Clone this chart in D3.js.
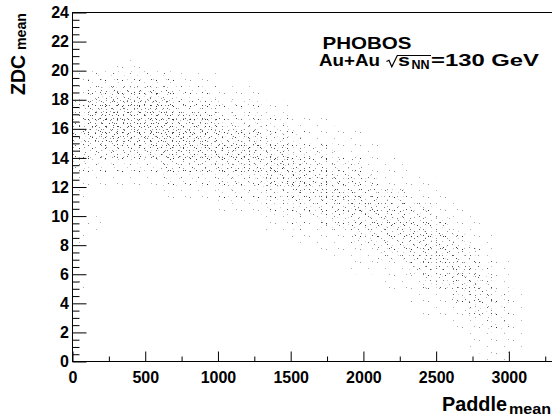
<!DOCTYPE html>
<html>
<head>
<meta charset="utf-8">
<script src="https://cdn.jsdelivr.net/npm/d3@7"></script>
<style>
body { margin: 0; background: #fff; }
text { font-family: "Liberation Sans", Arial, sans-serif; font-weight: bold; }
</style>
</head>
<body>
<svg id="chart" width="552" height="415"></svg>
<script>
// Paddle bin lower edges (width 100) and ZDC bin lower edges (width 1, top row first)
const paddleBins = [0, 100, 200, 300, 400, 500, 600, 700, 800, 900, 1000, 1100, 1200, 1300, 1400, 1500,
	1600, 1700, 1800, 1900, 2000, 2100, 2200, 2300, 2400, 2500, 2600, 2700, 2800, 2900, 3000]
const zdcBins = [20, 19, 18, 17, 16, 15, 14, 13, 12, 11, 10, 9, 8, 7, 6, 5, 4, 3, 2, 1, 0]

// event density per cell, 0 (empty) .. 9 (densest)
const density = [
	'0001100000 0000000000 0000000000 0',
	'1222222111 0000000000 0000000000 0',
	'1455554222 1110000000 0000000000 0',
	'3788887444 2221100000 0000000000 0',
	'4899998766 3332211100 0000000000 0',
	'5788888877 5553321111 0000000000 0',
	'4455557766 6665533311 1000000000 0',
	'3222224444 5556654433 1110000000 0',
	'1111112222 3335565544 3111100000 0',
	'1000001111 2223354555 4331110000 0',
	'0000000000 1112233445 5443311000 0',
	'0100000000 0001121334 4554431100 0',
	'1000000000 0000011113 3445543110 0',
	'0000000000 0000000111 1334554310 0',
	'0000000000 0000000001 1113445421 0',
	'1000000000 0000000000 0111334531 0',
	'0000000000 0000000000 0001113442 1',
	'0000000000 0000000000 0000111332 1',
	'0000000000 0000000000 0000001122 1',
	'0000000000 0000000000 0000000111 1',
	'0000000000 0000000000 0000000011 0'
].map(row => row.replace(/ /g, '').split('').map(Number))

const xTicks = [0, 500, 1000, 1500, 2000, 2500, 3000]
const yTicks = [0, 2, 4, 6, 8, 10, 12, 14, 16, 18, 20, 22, 24]

const svg = d3.select('#chart')

const x = d3.scaleLinear().domain([0, 3300]).range([72.5, 552.5])
const y = d3.scaleLinear().domain([0, 24]).range([361.5, 12.5])

// speckle textures with co-prime tiles; sparse layers switch on first,
// dense ones only in crowded cells
const layers = [
	{id: 'dotsD', w: 17, h: 13, dots: [[3, 2, '#333'], [11, 8, '#666'], [15, 1, '#555']], from: 0, span: 2},
	{id: 'dotsC', w: 13, h: 11, dots: [[1, 5, '#444'], [7, 9, '#777'], [10, 2, '#555']], from: 1, span: 3},
	{id: 'dotsB', w: 11, h: 7, dots: [[2, 3, '#666'], [7, 0, '#3a3a3a']], from: 2, span: 4},
	{id: 'dotsA', w: 7, h: 9, dots: [[1, 1, '#777'], [4, 6, '#4a4a4a'], [5, 3, '#888']], from: 4, span: 5}
]

let defs = svg.append('defs')
layers.forEach(l => {
	let p = defs.append('pattern')
		.attr('id', l.id)
		.attr('patternUnits', 'userSpaceOnUse')
		.attr('width', l.w)
		.attr('height', l.h)
	l.dots.forEach(d => {
		p.append('rect')
			.attr('x', d[0]).attr('y', d[1])
			.attr('width', 1).attr('height', 1)
			.attr('fill', d[2])
	})
})

let cells = []
density.forEach((row, i) => {
	row.forEach((v, j) => {
		if (v > 0) cells.push({p: paddleBins[j], z: zdcBins[i], v: v})
	})
})

let cloud = svg.append('g')
layers.forEach(l => {
	cloud.append('g')
		.selectAll('rect')
		.data(cells.filter(c => c.v > l.from))
		.join('rect')
		.attr('x', c => x(c.p))
		.attr('y', c => y(c.z + 1))
		.attr('width', c => x(c.p + 100) - x(c.p))
		.attr('height', c => y(c.z) - y(c.z + 1))
		.attr('fill', 'url(#' + l.id + ')')
		.attr('opacity', c => Math.min(1, (c.v - l.from) / l.span))
})

// axes, ROOT style: inward ticks, no domain path
const tickFont = g => g
	.attr('font-size', 16)
	.attr('font-family', '"Liberation Sans", Arial, sans-serif')
	.attr('font-weight', 'bold')
	.call(g => g.select('.domain').remove())
	.call(g => g.selectAll('line').attr('stroke', '#000'))
	.call(g => g.selectAll('text').attr('fill', '#000'))

svg.append('g')
	.attr('transform', `translate(0,${y(0)})`)
	.call(d3.axisBottom(x).tickValues(xTicks).tickSize(-10).tickPadding(10).tickFormat(d3.format('d')))
	.call(tickFont)
svg.append('g')
	.attr('transform', `translate(0,${y(0)})`)
	.call(d3.axisBottom(x).tickValues(d3.range(250, 3300, 500)).tickSize(-5).tickFormat(''))
	.call(tickFont)

svg.append('g')
	.attr('transform', `translate(${x(0)},0)`)
	.call(d3.axisLeft(y).tickValues(yTicks).tickSize(-14).tickPadding(3.5).tickFormat(d3.format('d')))
	.call(tickFont)
svg.append('g')
	.attr('transform', `translate(${x(0)},0)`)
	.call(d3.axisLeft(y).tickValues(d3.range(0.5, 24, 0.5).filter(v => v % 2 !== 0)).tickSize(-7).tickFormat(''))
	.call(tickFont)

svg.append('rect')
	.attr('x', x(0)).attr('y', y(24))
	.attr('width', x(3300) - x(0)).attr('height', y(0) - y(24))
	.attr('fill', 'none').attr('stroke', '#000').attr('stroke-width', 1)

// axis titles (ROOT puts them at the far end of the axis)
svg.append('text')
	.attr('x', 442).attr('y', 411)
	.attr('font-size', 21)
	.attr('textLength', 65).attr('lengthAdjust', 'spacingAndGlyphs')
	.text('Paddle')
svg.append('text')
	.attr('x', 509).attr('y', 413.5)
	.attr('font-size', 14)
	.attr('textLength', 42).attr('lengthAdjust', 'spacingAndGlyphs')
	.text('mean')

let yt = svg.append('g').attr('transform', 'translate(25,0) rotate(-90)')
yt.append('text')
	.attr('x', -95).attr('y', 0)
	.attr('font-size', 20)
	.attr('textLength', 40).attr('lengthAdjust', 'spacingAndGlyphs')
	.text('ZDC')
yt.append('text')
	.attr('x', -50).attr('y', 1)
	.attr('font-size', 14)
	.attr('textLength', 37).attr('lengthAdjust', 'spacingAndGlyphs')
	.text('mean')

// labels
svg.append('text')
	.attr('x', 322.5).attr('y', 48.5)
	.attr('font-size', 17)
	.attr('textLength', 89).attr('lengthAdjust', 'spacingAndGlyphs')
	.text('PHOBOS')

svg.append('text')
	.attr('x', 319).attr('y', 65.5)
	.attr('font-size', 17)
	.attr('textLength', 61).attr('lengthAdjust', 'spacingAndGlyphs')
	.text('Au+Au')

svg.append('path')
	.attr('d', 'M386.5,61.5 L389,60.3 L391.8,66.8 L397.3,55.5 L431,55.5')
	.attr('fill', 'none').attr('stroke', '#000').attr('stroke-width', 1.2)

svg.append('text')
	.attr('x', 398).attr('y', 65.5)
	.attr('font-size', 17)
	.attr('textLength', 12).attr('lengthAdjust', 'spacingAndGlyphs')
	.text('s')
svg.append('text')
	.attr('x', 411.5).attr('y', 69)
	.attr('font-size', 12)
	.attr('textLength', 18).attr('lengthAdjust', 'spacingAndGlyphs')
	.text('NN')
svg.append('text')
	.attr('x', 431).attr('y', 65.5)
	.attr('font-size', 17)
	.attr('textLength', 108).attr('lengthAdjust', 'spacingAndGlyphs')
	.text('=130 GeV')
</script>
</body>
</html>
